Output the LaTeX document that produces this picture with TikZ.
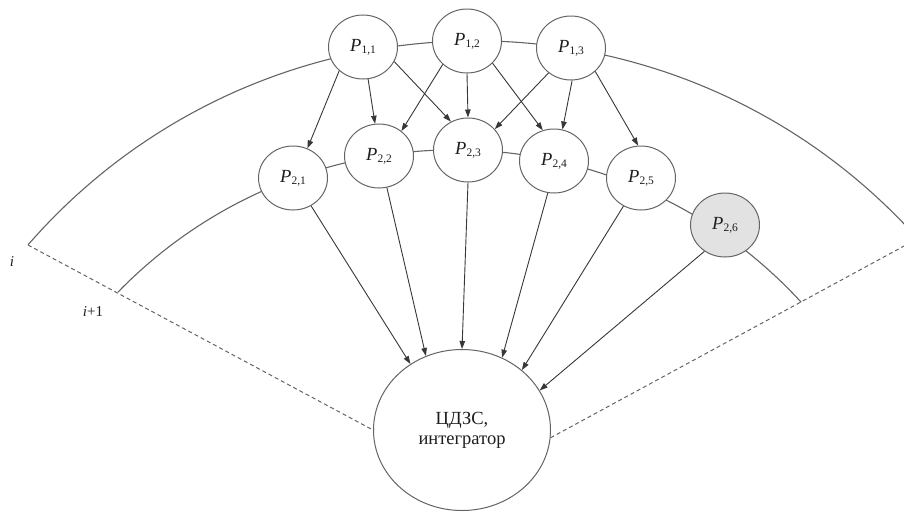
\documentclass[tikz,border=0pt]{standalone}
\usepackage{fontspec}
\setmainfont{LiberationSerif}[Extension=.ttf,UprightFont=*-Regular,ItalicFont=*-Italic,BoldFont=*-Bold]
\newfontfamily\tnr{LiberationSerif}[Extension=.ttf,UprightFont=*-Regular,ItalicFont=*-Italic,BoldFont=*-Bold]
\usetikzlibrary{shapes.geometric,arrows.meta}
\definecolor{linec}{RGB}{100,100,100}
\definecolor{arrc}{RGB}{55,55,55}
\definecolor{fillg}{RGB}{226,226,226}
\definecolor{txtc}{RGB}{30,30,30}
\newcommand{\plab}[1]{{\tnr\fontsize{18.5}{20}\selectfont\itshape P}\kern0.3pt\raisebox{-2pt}{\tnr\fontsize{11.5}{12}\selectfont #1}}
\begin{document}
\begin{tikzpicture}[x=1pt,y=-1pt,
 pnode/.style={ellipse,draw=linec,line width=1pt,fill=white,minimum width=69pt,minimum height=64pt,inner sep=0pt,text=txtc},
 bignode/.style={ellipse,draw=linec,line width=1pt,fill=white,minimum width=177pt,minimum height=161pt,inner sep=0pt,align=center,text=txtc,font=\tnr\fontsize{18.5}{20}\selectfont},
 arcline/.style={draw=linec,line width=1.1pt},
 flow/.style={draw=arrc,line width=0.9pt,-{Triangle[length=8pt,width=5.5pt]}},
 dashline/.style={draw=linec,line width=1pt,dash pattern=on 4pt off 3pt},
 lab/.style={font=\tnr\fontsize{15}{16}\selectfont,text=txtc,inner sep=0pt}
]
\useasboundingbox (0,0) rectangle (904,512);
\clip (0,0) rectangle (904,512);

\coordinate (oL) at (28,245);
\coordinate (oR) at (917,239);

% level arcs
\draw[arcline] plot[domain=-139:-41.9,samples=90] ({475.6+593*cos(\x)},{633.8+593*sin(\x)});
\draw[arcline] plot[domain=-135.8:-42.5,samples=90] ({454.8+469.9*cos(\x)},{619.7+469.9*sin(\x)});

% nodes
\node[pnode] (P11) at (363,47) {\plab{1,1}};
\node[pnode] (P12) at (467,41) {\plab{1,2}};
\node[pnode] (P13) at (571,48) {\plab{1,3}};
\node[pnode] (P21) at (293,178) {\plab{2,1}};
\node[pnode] (P22) at (379,156) {\plab{2,2}};
\node[pnode] (P23) at (468,150) {\plab{2,3}};
\node[pnode] (P24) at (554,161) {\plab{2,4}};
\node[pnode] (P25) at (641,178) {\plab{2,5}};
\node[pnode,fill=fillg] (P26) at (725,225) {\plab{2,6}};
\node[bignode] (big) at (462,430) {ЦДЗС,\\интегратор};

% dashed boundaries
\draw[dashline] (oL) -- (big.180);
\draw[dashline] (big.-5) -- (oR);

% level 1 -> level 2
\draw[flow] (P11.-135) -- (P21.64);
\draw[flow] (P11.-81) -- (P22.97);
\draw[flow] (P11.-25) -- (P23.121);
\draw[flow] (P12.-136) -- (P22.48);
\draw[flow] (P12.-90) -- (P23.90);
\draw[flow] (P12.-41) -- (P24.110);
\draw[flow] (P13.-132) -- (P23.38);
\draw[flow] (P13.-88) -- (P24.75);
\draw[flow] (P13.-44) -- (P25.95);

% level 2 -> integrator
\draw[flow] (P21.-57) -- (big.128);
\draw[flow] (P22.-76) -- (big.116);
\draw[flow] (P23.-90) -- (big.90);
\draw[flow] (P24.-101) -- (big.61);
\draw[flow] (P25.-122) -- (big.45);
\draw[flow] (P26.-128) -- (big.27);

% labels
\node[lab] (li) at (12,262) {\itshape i};
\node[lab] (li1) at (93,312) {\textit{i}+1};
\end{tikzpicture}
\end{document}
